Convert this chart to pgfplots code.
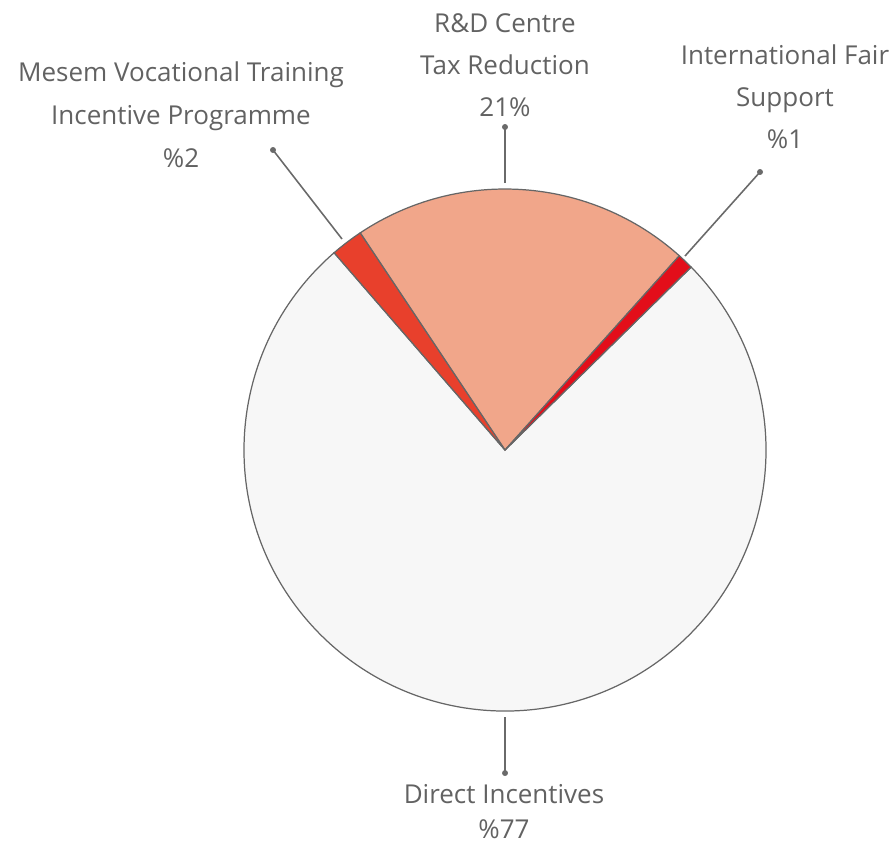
\documentclass[border=0pt]{standalone}
\usepackage{fontspec}
\setmainfont{Open Sans}
\usepackage{pgfplots}
\pgfplotsset{compat=1.18}
\definecolor{fairred}{HTML}{E30E1A}
\definecolor{rdsalmon}{HTML}{F1A68A}
\definecolor{mesemred}{HTML}{E8402C}
\definecolor{directgray}{HTML}{F7F7F7}
\definecolor{labelgray}{HTML}{626262}
\definecolor{leadergray}{HTML}{6A6A6A}

% one wedge: start angle, end angle, fill
\newcommand{\slice}[3]{%
  \filldraw[fill=#3, draw=black!60, line width=0.35pt]
    (axis cs:505,392) -- ++(#1:2.61cm) arc[start angle=#1, end angle=#2, radius=2.61cm] -- cycle;}
\newcommand{\leader}[4]{%
  \draw[leadergray, line width=0.45pt] (axis cs:#1,#2) -- (axis cs:#3,#4);
  \fill[leadergray] (axis cs:#3,#4) circle[radius=0.85pt];}

\begin{document}
\begin{tikzpicture}[font=\fontsize{7.4}{8.5}\selectfont]
% shares in percent, counter-clockwise from 44.5 degrees
\pgfmathsetmacro\aA{44.5}
\pgfmathsetmacro\aB{\aA+3.6*1}   % International Fair Support
\pgfmathsetmacro\aC{\aB+3.6*21}  % R&D Centre Tax Reduction
\pgfmathsetmacro\aD{\aC+3.6*2}   % Mesem
\pgfmathsetmacro\aE{\aD+3.6*76}  % Direct Incentives
\begin{axis}[
  width=8.9cm, height=8.42cm, scale only axis,
  xmin=0, xmax=890, ymin=0, ymax=842,
  hide axis, clip=false,
]
\path (axis cs:0,0) (axis cs:890,842);
\slice{\aD}{\aE}{directgray}
\slice{\aB}{\aC}{rdsalmon}
\slice{\aC}{\aD}{mesemred}
\slice{\aA}{\aB}{fairred}

\leader{342}{603}{273}{692}
\leader{505}{659}{505}{715}
\leader{685}{586}{760}{670}
\leader{505}{125}{505}{69}

\begin{scope}[every node/.style={anchor=base, text=labelgray, inner sep=0pt}]
\node at (axis cs:181,760) {Mesem Vocational Training};
\node at (axis cs:181,717) {Incentive Programme};
\node at (axis cs:181,675) {\%2};
\node at (axis cs:505,809) {R\&D Centre};
\node at (axis cs:505,767) {Tax Reduction};
\node at (axis cs:505,725) {21\%};
\node at (axis cs:785,777) {International Fair};
\node at (axis cs:785,735) {Support};
\node at (axis cs:785,694) {\%1};
\node at (axis cs:504,39) {Direct Incentives};
\node at (axis cs:504,4) {\%77};
\end{scope}
\end{axis}
\end{tikzpicture}
\end{document}
